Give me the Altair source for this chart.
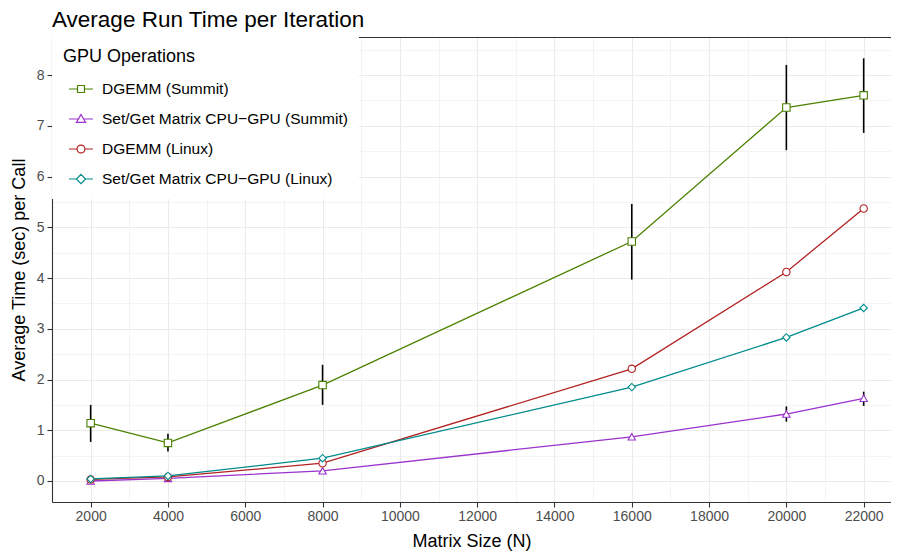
import altair as alt
import pandas as pd

sizes = [2000, 4000, 8000, 16000, 20000, 22000]
series_names = ["DGEMM (Summit)", "Set/Get Matrix CPU−GPU (Summit)",
                "DGEMM (Linux)", "Set/Get Matrix CPU−GPU (Linux)"]
series_colors = ["#4C8000", "#9A32CD", "#B22222", "#008B8B"]
point_shapes = ["square", "triangle-up", "circle", "diamond"]

dgemm_summit = [1.14, 0.75, 1.89, 4.72, 7.36, 7.60]
dgemm_summit_lo = [0.77, 0.58, 1.50, 3.97, 6.52, 6.86]
dgemm_summit_hi = [1.50, 0.93, 2.29, 5.46, 8.20, 8.33]

setget_summit = [0.00, 0.05, 0.20, 0.87, 1.32, 1.63]
setget_summit_lo = [0.00, 0.04, 0.19, 0.82, 1.17, 1.48]
setget_summit_hi = [0.01, 0.06, 0.21, 0.92, 1.47, 1.76]

dgemm_linux = [0.03, 0.08, 0.35, 2.21, 4.12, 5.37]
setget_linux = [0.04, 0.10, 0.45, 1.85, 2.83, 3.41]

x_ticks = [2000, 4000, 6000, 8000, 10000, 12000, 14000, 16000, 18000, 20000, 22000]
x_minor = [1000, 3000, 5000, 7000, 9000, 11000, 13000, 15000, 17000, 19000, 21000]
y_ticks = [0, 1, 2, 3, 4, 5, 6, 7, 8]
y_minor = [0.5, 1.5, 2.5, 3.5, 4.5, 5.5, 6.5, 7.5, 8.5]

rows = []
for name, vals, lo, hi in [
    (series_names[0], dgemm_summit, dgemm_summit_lo, dgemm_summit_hi),
    (series_names[1], setget_summit, setget_summit_lo, setget_summit_hi),
    (series_names[2], dgemm_linux, dgemm_linux, dgemm_linux),
    (series_names[3], setget_linux, setget_linux, setget_linux),
]:
    for s, v, l, h in zip(sizes, vals, lo, hi):
        rows.append({"size": s, "time": v, "lo": l, "hi": h, "series": name})
df = pd.DataFrame(rows)

FONT = "Liberation Sans"
xs = alt.Scale(domain=[1000, 22707], nice=False, zero=False)
ys = alt.Scale(domain=[-0.414, 8.75], nice=False, zero=False)
stroke_scale = alt.Scale(domain=series_names, range=series_colors)

legend_paths = [
    "M-1,0L-0.29,0M0.29,0L1,0M-0.29,-0.29L0.29,-0.29L0.29,0.29L-0.29,0.29Z",
    "M-1,0L-0.21,0M0.21,0L1,0M0,-0.38L0.38,0.28L-0.38,0.28Z",
    "M-1,0L-0.33,0M0.33,0L1,0M-0.33,0A0.33,0.33 0 1,0 0.33,0A0.33,0.33 0 1,0 -0.33,0Z",
    "M-1,0L-0.38,0M0.38,0L1,0M0,-0.38L0.38,0L0,0.38L-0.38,0Z",
]

base = alt.Chart(df)

minor = base.mark_point(opacity=0).encode(
    x=alt.X("size:Q", scale=xs, axis=alt.Axis(
        values=x_minor, grid=True, gridColor="#EBEBEB", gridWidth=0.55,
        labels=False, ticks=False, domain=False, title=None, orient="bottom")),
    y=alt.Y("time:Q", scale=ys, axis=alt.Axis(
        values=y_minor, grid=True, gridColor="#EBEBEB", gridWidth=0.55,
        labels=False, ticks=False, domain=False, title=None, orient="left")),
)

topb = base.mark_point(opacity=0).encode(
    x=alt.X("size:Q", scale=xs, axis=alt.Axis(
        orient="top", labels=False, ticks=False, grid=False, domain=True,
        domainColor="#333333", domainWidth=1.1, title=None)),
    y=alt.Y("time:Q", scale=ys, axis=None),
)

err = base.mark_rule(color="black", strokeWidth=1.6).encode(
    x=alt.X("size:Q", scale=xs, axis=None),
    y=alt.Y("lo:Q", scale=ys, axis=None),
    y2="hi:Q",
)

lines = base.mark_line(strokeWidth=1.3).encode(
    x=alt.X("size:Q", scale=xs, axis=None),
    y=alt.Y("time:Q", scale=ys, axis=None),
    stroke=alt.Stroke("series:N", scale=stroke_scale, legend=None),
    detail="series:N",
)

pts = base.mark_point(filled=True, fill="white", strokeWidth=1.1, size=55, opacity=1).encode(
    x=alt.X("size:Q", scale=xs, title="Matrix Size (N)", axis=alt.Axis(
        values=x_ticks, format="d", grid=True, gridColor="#EBEBEB", gridWidth=1.1,
        orient="bottom", domainColor="#333333", domainWidth=1.1,
        tickColor="#333333", tickSize=5, tickWidth=1.1,
        labelColor="#4D4D4D", labelFontSize=14, labelFont=FONT, labelPadding=2,
        titleFont=FONT, titleFontSize=18, titleFontWeight="normal", titleColor="black",
        titlePadding=9, labelFlush=False)),
    y=alt.Y("time:Q", scale=ys, title="Average Time (sec) per Call", axis=alt.Axis(
        values=y_ticks, grid=True, gridColor="#EBEBEB", gridWidth=1.1,
        orient="left", domainColor="#333333", domainWidth=1.1,
        tickColor="#333333", tickSize=5, tickWidth=1.1,
        labelColor="#4D4D4D", labelFontSize=14, labelFont=FONT, labelPadding=3,
        titleFont=FONT, titleFontSize=18, titleFontWeight="normal", titleColor="black",
        titlePadding=8)),
    stroke=alt.Stroke("series:N", scale=stroke_scale, legend=None),
    shape=alt.Shape("series:N", scale=alt.Scale(domain=series_names, range=point_shapes), legend=None),
)

legend_props = dict(
    title="GPU Operations", orient="top-left", offset=0, padding=11,
    fillColor="white", titleFont=FONT, titleFontSize=18, titleFontWeight="normal",
    titleColor="black", titlePadding=10, labelFont=FONT, labelFontSize=15.5,
    labelColor="black", labelLimit=400, symbolSize=576, symbolStrokeWidth=1.2,
    symbolFillColor="white", rowPadding=8, symbolOffset=5, labelOffset=8, zindex=3,
)

leg = base.transform_filter("false").mark_point(
    filled=True, fill="white", strokeWidth=1.2, size=576, opacity=1
).encode(
    stroke=alt.Stroke("series:N", scale=stroke_scale, legend=alt.Legend(**legend_props)),
    shape=alt.Shape("series:N", scale=alt.Scale(domain=series_names, range=legend_paths),
                    legend=alt.Legend(**legend_props)),
)

chart = alt.layer(minor, topb, err, lines, pts, leg).resolve_scale(
    stroke="independent", shape="independent"
).resolve_axis(
    x="independent", y="independent"
).properties(
    width=839, height=465,
    padding={"left": 44, "top": 29, "right": 0, "bottom": 52},
    autosize=alt.AutoSizeParams(type="none"),
    title=alt.TitleParams("Average Run Time per Iteration", anchor="start", frame="group",
                          font=FONT, fontSize=22.5, fontWeight="normal", color="black",
                          offset=6),
).configure_view(stroke=None)

chart.save("out.html", embed_options={"renderer": "svg", "actions": False})
